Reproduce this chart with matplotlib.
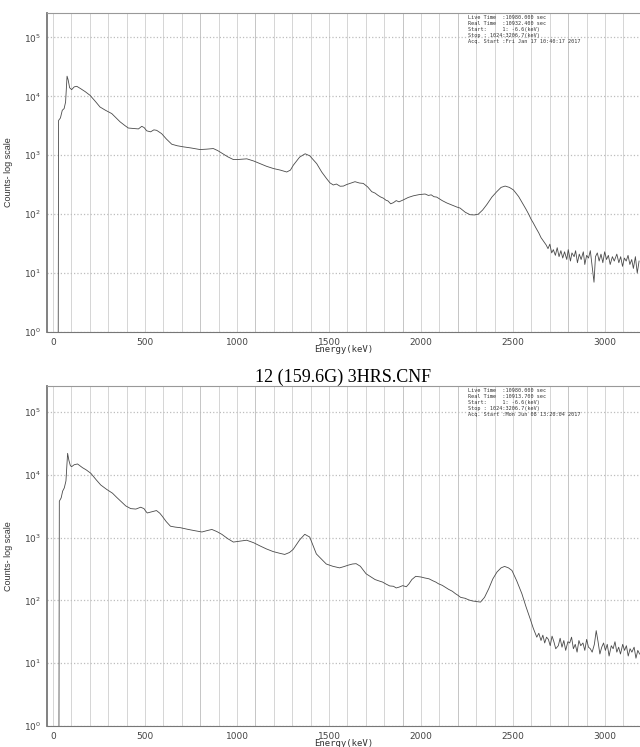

import matplotlib.pyplot as plt
import numpy as np
from matplotlib.ticker import LogLocator, MultipleLocator

# --- espectro superior (keV, contagens) ---
top_energy = [
    28, 30, 40, 50, 60, 68, 76, 82, 90, 101, 115, 129, 150, 175, 201, 230, 255, 285,
    319, 340, 364, 390, 409, 440, 464, 482, 495, 509, 530, 548, 563, 590, 615, 645,
    675, 708, 750, 799, 835, 871, 895, 917, 950, 980, 1010, 1053, 1090, 1125, 1160,
    1198, 1235, 1270, 1290, 1306, 1340, 1370, 1395, 1433, 1460, 1487, 1505, 1523,
    1540, 1560, 1578, 1595, 1610, 1641, 1665, 1686, 1710, 1732, 1750, 1765, 1780,
    1795, 1810, 1820, 1835, 1850, 1865, 1880, 1904, 1930, 1958, 1990, 2022, 2040,
    2055, 2070, 2085, 2100, 2115, 2140, 2160, 2175, 2195, 2212, 2240, 2266, 2290,
    2311, 2335, 2357, 2385, 2411, 2435, 2457, 2480, 2502, 2530, 2556, 2570, 2585,
    2598, 2610, 2625, 2640, 2652, 2665, 2680, 2690, 2700, 2710, 2719, 2730, 2740,
    2750, 2760, 2770, 2780, 2792, 2800, 2812, 2820, 2832, 2840, 2850, 2860, 2870,
    2882, 2890, 2900, 2910, 2920, 2930, 2940, 2948, 2958, 2968, 2978, 2988, 2998,
    3008, 3018, 3028, 3040, 3050, 3064, 3075, 3085, 3095, 3105, 3115, 3125, 3135,
    3145, 3154, 3165, 3175, 3185,
]
top_counts = [
    1, 3900, 4300, 5800, 6200, 8000, 22000, 19000, 14000, 13000, 14500, 14800, 13500,
    12000, 10400, 8200, 6600, 5800, 5100, 4400, 3700, 3200, 2900, 2850, 2800, 3100,
    2950, 2600, 2500, 2700, 2650, 2330, 1900, 1540, 1450, 1390, 1330, 1250, 1270,
    1300, 1200, 1090, 940, 845, 850, 870, 800, 720, 650, 595, 560, 520, 560, 680, 930,
    1060, 980, 720, 520, 400, 340, 313, 325, 298, 300, 318, 330, 356, 338, 333, 290,
    241, 228, 210, 196, 187, 172, 168, 150, 157, 170, 162, 175, 192, 205, 215, 220,
    208, 213, 198, 195, 182, 170, 155, 146, 140, 132, 127, 108, 98, 97, 100, 118, 145,
    195, 240, 285, 300, 285, 258, 200, 145, 122, 100, 82, 71, 58, 48, 40, 35, 30, 26,
    31, 22, 25, 20, 27, 19, 24, 18, 23, 17, 25, 16, 22, 19, 24, 15, 21, 17, 23, 14, 20,
    18, 24, 13, 7, 19, 22, 16, 21, 15, 23, 17, 20, 14, 19, 16, 21, 15, 19, 13, 18, 16,
    20, 14, 17, 12, 19, 10, 16,
]

# --- espectro inferior (keV, contagens) ---
bottom_energy = [
    32, 34, 44, 52, 61, 70, 79, 86, 94, 101,
    115, 133, 160, 180, 205, 235, 259, 290, 323, 345,
    368, 395, 422, 450, 476, 494, 503, 512, 540, 562,
    580, 593, 615, 638, 665, 692, 730, 764, 809, 835,
    863, 890, 917, 950, 980, 1015, 1052, 1090, 1124, 1160,
    1196, 1230, 1259, 1285, 1305, 1340, 1368, 1395, 1431, 1460,
    1485, 1520, 1557, 1580, 1605, 1627, 1647, 1670, 1701, 1725,
    1750, 1770, 1791, 1810, 1830, 1850, 1865, 1881, 1900, 1920,
    1935, 1950, 1971, 2000, 2020, 2043, 2065, 2080, 2095, 2115,
    2135, 2150, 2170, 2187, 2200, 2215, 2240, 2259, 2280, 2300,
    2323, 2345, 2368, 2390, 2413, 2435, 2454, 2475, 2494, 2520,
    2548, 2570, 2593, 2610, 2629, 2640, 2652, 2662, 2672, 2682,
    2692, 2702, 2712, 2722, 2732, 2746, 2756, 2766, 2776, 2786,
    2798, 2808, 2818, 2828, 2838, 2848, 2858, 2868, 2880, 2890,
    2900, 2910, 2920, 2930, 2942, 2952, 2962, 2972, 2982, 2992,
    3002, 3012, 3022, 3034, 3044, 3054, 3064, 3074, 3084, 3096,
    3106, 3116, 3126, 3136, 3146, 3158, 3168, 3178, 3188,
]
bottom_counts = [
    1, 3800, 4300, 5500, 6200, 8000, 22000, 17000, 14000, 13500,
    14500, 14900, 13000, 12000, 10600, 8300, 6900, 5900, 5100, 4400,
    3800, 3200, 2900, 2850, 3050, 2900, 2650, 2470, 2600, 2700,
    2450, 2200, 1800, 1520, 1470, 1440, 1360, 1300, 1230, 1290,
    1350, 1250, 1130, 960, 850, 880, 910, 830, 740, 660,
    600, 565, 540, 580, 650, 920, 1130, 1020, 550, 450,
    380, 350, 330, 345, 365, 380, 385, 350, 266, 240,
    215, 205, 196, 182, 170, 168, 158, 163, 172, 165,
    185, 215, 242, 236, 228, 221, 205, 196, 184, 174,
    160, 150, 140, 128, 121, 112, 108, 102, 98, 96,
    94, 112, 154, 220, 284, 330, 348, 330, 300, 205,
    128, 80, 51, 36, 26, 30, 23, 28, 21, 26,
    24, 19, 27, 22, 17, 19, 25, 18, 23, 16,
    22, 21, 26, 17, 20, 15, 23, 19, 21, 16,
    24, 18, 17, 15, 20, 33, 22, 14, 18, 21,
    16, 20, 13, 19, 17, 22, 15, 18, 14, 20,
    16, 19, 13, 17, 15, 18, 12, 16, 14,
]

# linhas de grade mais escuras que aparecem na referência (keV)
dark_grid = [800, 1100, 1900, 2200, 2800]

top_info = [
    "Live Time  :10980.000 sec",
    "Real Time  :10932.400 sec",
    "Start:     1: -6.6(keV)",
    "Stop : 1024:3206.7(keV)",
    "Acq. Start :Fri Jan 17 10:40:17 2017",
]
bottom_info = [
    "Live Time  :10980.000 sec",
    "Real Time  :10913.700 sec",
    "Start:     1: -6.6(keV)",
    "Stop : 1024:3206.7(keV)",
    "Acq. Start :Mon Jun 08 13:20:04 2017",
]
bottom_title = "12 (159.6G) 3HRS.CNF"


def draw_spectrum(ax, energy, counts, info):
    """Desenha um espectro em escala log com grade de 100 keV."""
    ax.plot(energy, counts, color="#4a4a4a", linewidth=0.6, zorder=3)
    ax.set_yscale("log")
    ax.set_xlim(-33, 3190)
    ax.set_ylim(1, 2.6e5)
    ax.xaxis.set_major_locator(MultipleLocator(500))
    ax.xaxis.set_minor_locator(MultipleLocator(100))
    ax.yaxis.set_major_locator(LogLocator(base=10, numticks=10))
    ax.yaxis.set_minor_locator(LogLocator(base=10, subs=[], numticks=10))
    ax.grid(which="both", axis="x", color="#cfcfcf", linestyle="-", linewidth=0.6)
    ax.grid(which="major", axis="y", color="#bdbdbd", linestyle=":", linewidth=0.9)
    for pos in dark_grid:
        ax.axvline(pos, color="#9a9a9a", linewidth=0.7, zorder=1)
    ax.tick_params(which="both", length=0, labelsize=6.5, colors="#444444", pad=4)
    ax.spines["right"].set_visible(False)
    ax.spines["left"].set_color("#777777")
    ax.spines["left"].set_linewidth(1.3)
    ax.spines["bottom"].set_color("#777777")
    ax.spines["top"].set_color("#999999")
    ax.set_xlabel("Energy(keV)", family="DejaVu Sans Mono", fontsize=6.5,
                  labelpad=-1, color="#333333")
    ax.set_ylabel("Counts- log scale", family="Liberation Sans", fontsize=6.5,
                  labelpad=8, color="#333333")
    ax.text(0.71, 0.993, "\n".join(info), transform=ax.transAxes, va="top",
            ha="left", family="DejaVu Sans Mono", fontsize=3.7, color="#333333",
            linespacing=1.25)


fig = plt.figure(figsize=(6.4, 7.47), dpi=100)
ax_top = fig.add_axes([47 / 640, 1 - 332 / 747, 593 / 640, 319 / 747])
ax_bottom = fig.add_axes([47 / 640, 1 - 726 / 747, 593 / 640, 340 / 747])

draw_spectrum(ax_top, top_energy, top_counts, top_info)
draw_spectrum(ax_bottom, bottom_energy, bottom_counts, bottom_info)
ax_bottom.set_title(bottom_title, family="Liberation Serif", fontsize=13, pad=2,
                    x=0.5)

fig.savefig("out.png", dpi=100)
plt.close(fig)
